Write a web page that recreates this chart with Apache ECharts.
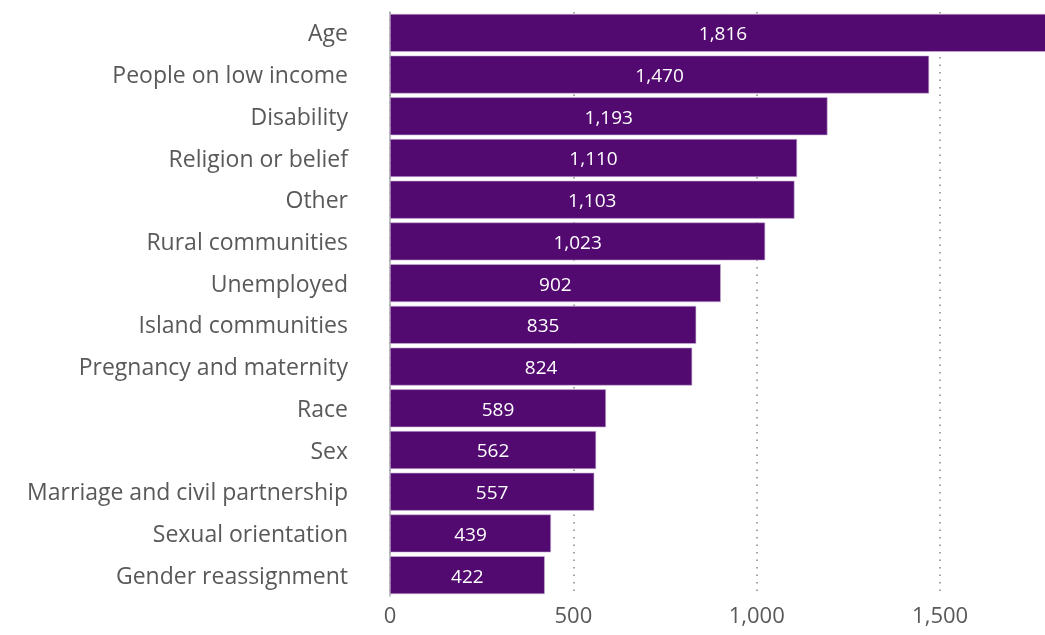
<!DOCTYPE html>
<html>
<head>
<meta charset="utf-8">
<script src="https://cdn.jsdelivr.net/npm/echarts@6/dist/echarts.min.js"></script>
<style>
html,body{margin:0;padding:0;background:#fff;overflow:hidden;width:1045px;height:635px;}
#chart{width:1060px;height:635px;}
</style>
</head>
<body>
<div id="chart"></div>
<script>
const categories = ["Age","People on low income","Disability","Religion or belief","Other","Rural communities","Unemployed","Island communities","Pregnancy and maternity","Race","Sex","Marriage and civil partnership","Sexual orientation","Gender reassignment"];
const values = [1816,1470,1193,1110,1103,1023,902,835,824,589,562,557,439,422];
const xTicks = [0,500,1000,1500];

const chart = echarts.init(document.getElementById('chart'), null, {renderer:'canvas'});
const fmt = v => v.toLocaleString('en-GB');
chart.setOption({
  animation:false,
  grid:{left:390,right:4,top:12,bottom:39,containLabel:false},
  xAxis:{
    type:'value', min:0, max:1816, interval:500,
    axisLine:{show:false}, axisTick:{show:false},
    axisLabel:{color:'#595959',fontSize:22,fontFamily:'Open Sans',margin:10,showMaxLabel:false,
      formatter:v=>xTicks.includes(v)?fmt(v):''},
    splitLine:{show:true,lineStyle:{type:[1.5,6],color:'#888',width:1.5}}
  },
  yAxis:{
    type:'category', data:categories, inverse:true,
    axisLine:{show:true,lineStyle:{color:'#aaa',width:1.5}},
    axisTick:{show:false},
    axisLabel:{color:'#595959',fontSize:23,fontFamily:'Open Sans',margin:42,
      formatter:v=>'{a|'+v+'}',
      rich:{a:{color:'#595959',fontSize:23,fontFamily:'Open Sans',padding:[4,0,0,0]}}}
  },
  series:[{
    type:'bar', data:values, barCategoryGap:'9%',
    itemStyle:{color:'#530a70',borderColor:'#c9b3d6',borderWidth:0.6},
    label:{show:true,position:'inside',offset:[0,2],color:'#fff',fontSize:19,fontFamily:'Open Sans',formatter:p=>fmt(p.value)}
  }]
});
</script>
</body>
</html>
